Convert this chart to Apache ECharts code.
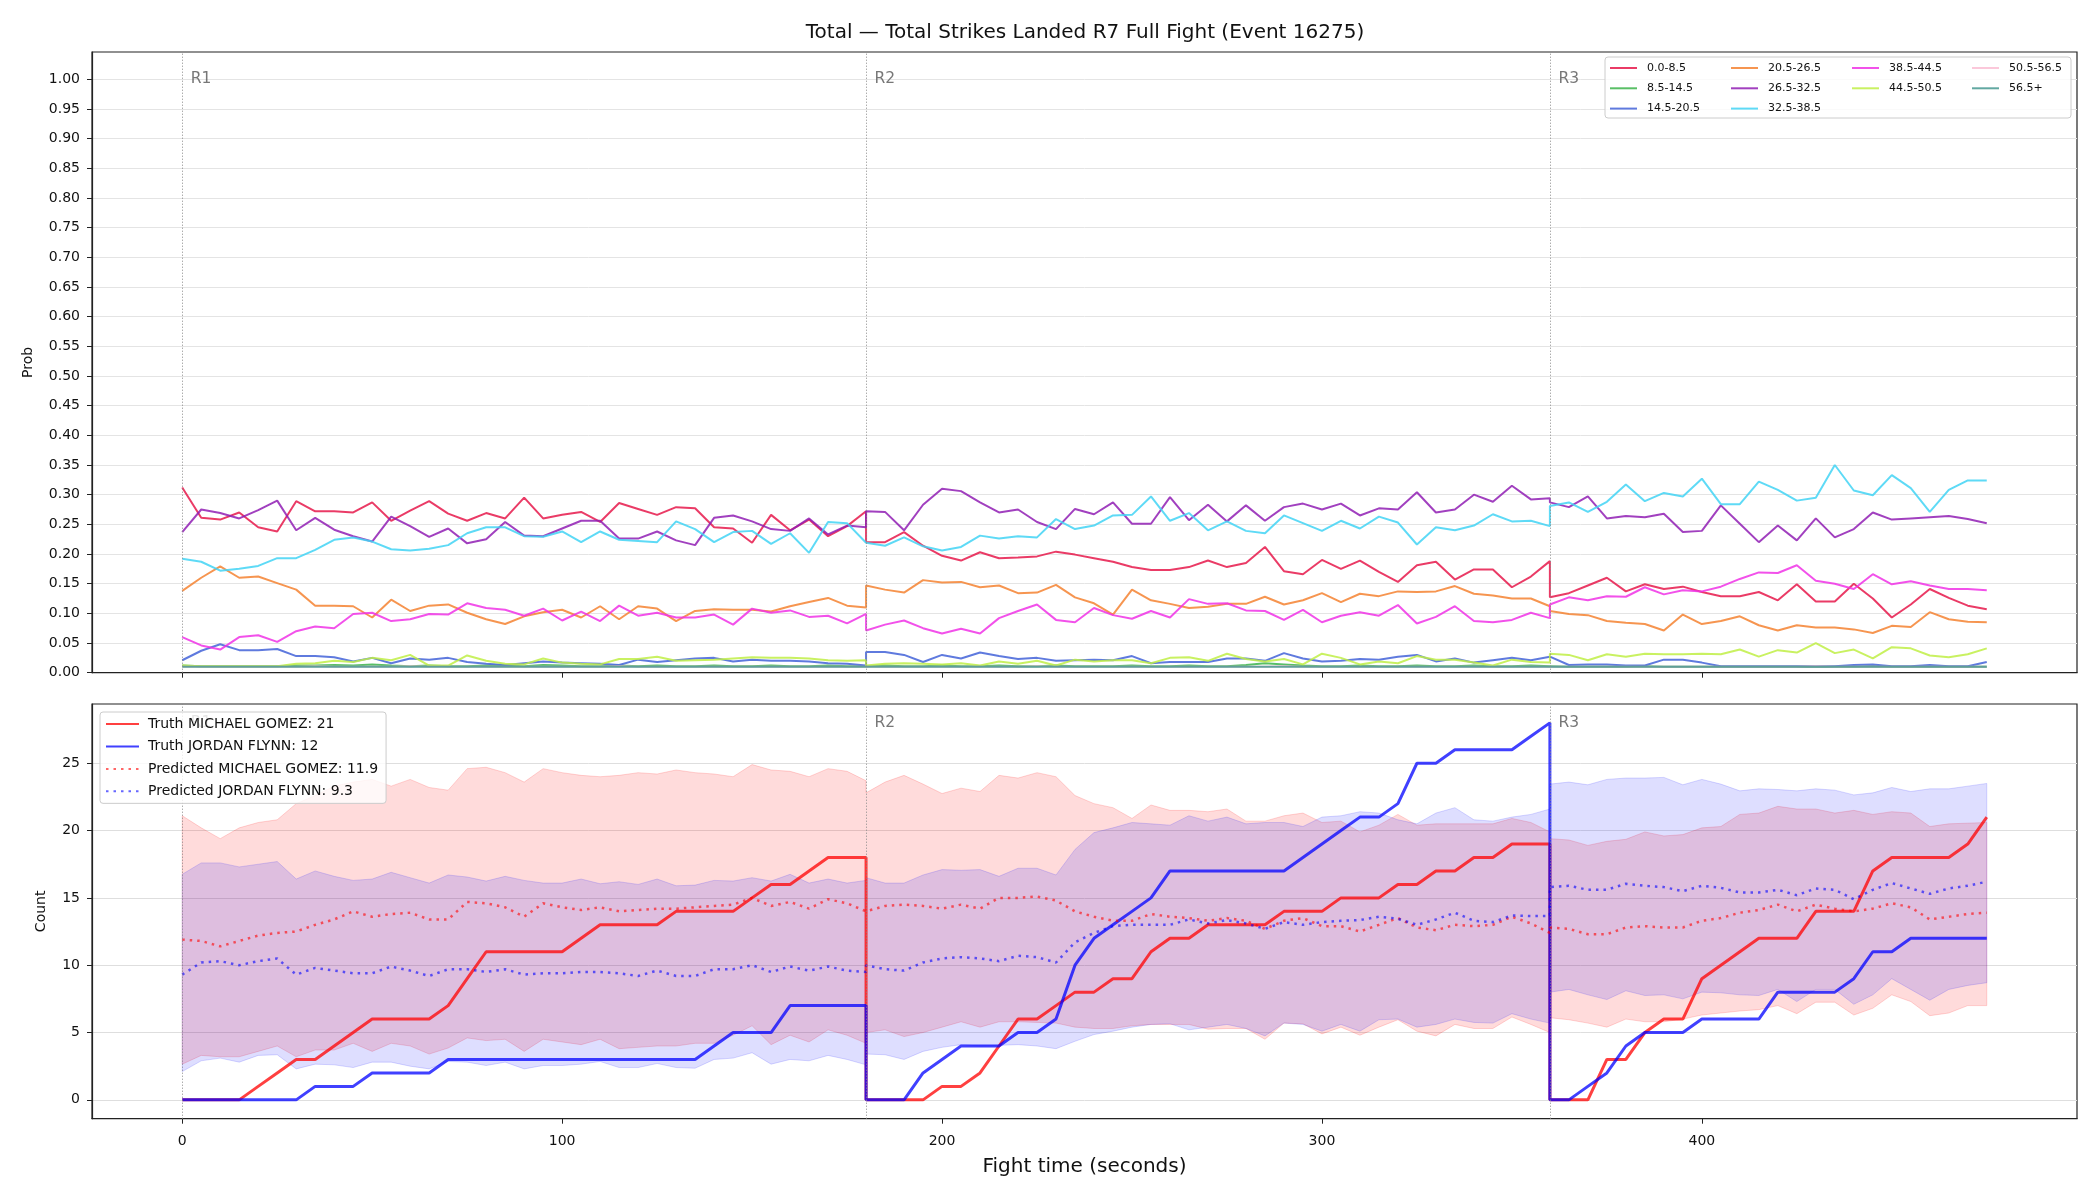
<!DOCTYPE html>
<html>
<head>
<meta charset="utf-8">
<title>Total Strikes Landed R7</title>
<script src="https://cdn.jsdelivr.net/npm/echarts@6/dist/echarts.min.js"></script>
<style>
html,body{margin:0;padding:0;background:#fff;}
#main{width:2100px;height:1200px;}
</style>
</head>
<body>
<div id="main"></div>
<script>
// fight time (s); round edges are repeated so each round starts fresh
var T = [0,5,10,15,20,25,30,35,40,45,50,55,60,65,70,75,80,85,90,95,100,105,110,115,120,125,130,135,140,145,150,155,160,165,170,175,180,
  180,185,190,195,200,205,210,215,220,225,230,235,240,245,250,255,260,265,270,275,280,285,290,295,300,305,310,315,320,325,330,335,340,345,350,355,360,
  360,365,370,375,380,385,390,395,400,405,410,415,420,425,430,435,440,445,450,455,460,465,470,475];

var BINS = ['0.0-8.5','8.5-14.5','14.5-20.5','20.5-26.5','26.5-32.5','32.5-38.5','38.5-44.5','44.5-50.5','50.5-56.5','56.5+'];
var BIN_COLORS = ['#e6194b','#3cb44b','#4363d8','#f58231','#911eb4','#42d4f4','#f032e6','#bfef45','#fabed4','#469990'];

var P_0_85 = [.312,.261,.258,.270,.245,.238,.289,.272,.272,.270,.287,.256,.273,.289,.268,.256,.269,.260,.295,.260,.266,.271,.254,.286,.276,.266,.279,.277,.245,.243,.219,.266,.240,.258,.230,.247,.272,
  .220,.220,.237,.214,.197,.189,.203,.193,.194,.196,.204,.199,.193,.187,.178,.173,.173,.178,.189,.178,.185,.212,.171,.166,.190,.175,.189,.170,.153,.181,.187,.157,.174,.174,.144,.162,.188,
  .127,.134,.147,.160,.137,.149,.141,.145,.136,.129,.129,.136,.122,.149,.120,.120,.150,.125,.093,.115,.141,.126,.113,.107];
var P_85_145 = [.012,.011,.011,.011,.011,.011,.012,.012,.013,.012,.014,.012,.011,.012,.011,.011,.012,.012,.011,.013,.012,.011,.011,.012,.011,.012,.011,.011,.012,.011,.011,.012,.011,.011,.012,.011,.011,
  .011,.012,.011,.011,.012,.011,.011,.012,.011,.011,.012,.011,.011,.011,.012,.011,.011,.012,.011,.011,.013,.016,.014,.012,.011,.011,.012,.011,.011,.012,.011,.011,.012,.011,.011,.012,.011,
  .011,.010,.010,.010,.010,.011,.010,.010,.010,.010,.010,.010,.010,.010,.010,.010,.010,.011,.010,.010,.010,.010,.010,.010];
var P_145_205 = [.021,.037,.048,.038,.038,.040,.028,.028,.026,.019,.025,.016,.024,.022,.025,.018,.015,.013,.016,.019,.017,.016,.015,.013,.022,.018,.021,.024,.025,.019,.022,.020,.020,.019,.016,.015,.012,
  .035,.035,.030,.018,.030,.024,.034,.028,.023,.025,.020,.021,.022,.021,.028,.016,.018,.018,.018,.024,.024,.020,.033,.024,.019,.020,.023,.022,.027,.030,.019,.024,.017,.021,.025,.021,.027,
  .024,.013,.014,.014,.012,.012,.022,.022,.017,.011,.011,.011,.011,.011,.011,.011,.013,.014,.011,.011,.013,.011,.011,.018];
var P_205_265 = [.138,.160,.179,.160,.162,.151,.140,.113,.113,.112,.093,.123,.104,.113,.115,.101,.090,.082,.095,.102,.106,.093,.112,.090,.112,.108,.087,.104,.107,.106,.106,.103,.112,.119,.126,.113,.110,
  .147,.140,.135,.156,.152,.153,.144,.147,.134,.135,.148,.127,.117,.098,.140,.122,.116,.109,.111,.116,.116,.128,.115,.122,.134,.119,.133,.129,.137,.136,.137,.146,.133,.130,.125,.125,.112,
  .104,.099,.097,.087,.084,.082,.071,.098,.082,.087,.095,.080,.071,.080,.076,.076,.073,.067,.079,.077,.102,.090,.086,.085];
var P_265_325 = [.237,.275,.269,.260,.274,.290,.240,.261,.241,.230,.221,.263,.247,.229,.243,.218,.225,.254,.231,.230,.243,.256,.256,.226,.226,.238,.223,.215,.261,.265,.255,.242,.239,.260,.233,.248,.245,
  .272,.271,.240,.283,.310,.306,.287,.270,.275,.254,.242,.276,.267,.287,.251,.251,.296,.257,.283,.255,.282,.256,.279,.285,.275,.285,.265,.277,.275,.304,.270,.275,.300,.288,.315,.292,.294,
  .287,.279,.297,.260,.264,.262,.268,.237,.239,.282,.251,.220,.248,.223,.260,.228,.242,.270,.258,.260,.262,.264,.259,.252];
var P_325_385 = [.192,.187,.172,.175,.180,.193,.193,.207,.224,.228,.221,.208,.206,.209,.215,.235,.245,.245,.230,.229,.238,.220,.238,.224,.222,.220,.255,.242,.220,.237,.239,.217,.235,.202,.254,.252,.219,
  .219,.214,.228,.213,.206,.212,.231,.226,.230,.228,.259,.242,.248,.265,.266,.297,.256,.269,.240,.255,.239,.235,.265,.252,.239,.256,.243,.263,.253,.216,.245,.240,.248,.267,.255,.256,.247,
  .281,.287,.271,.288,.317,.289,.303,.297,.327,.284,.284,.322,.308,.290,.295,.350,.307,.299,.333,.311,.271,.308,.324,.324];
var P_385_445 = [.060,.046,.039,.060,.063,.052,.070,.078,.075,.099,.101,.087,.090,.099,.098,.117,.109,.106,.096,.108,.088,.103,.087,.113,.096,.101,.093,.093,.098,.081,.108,.101,.105,.094,.096,.083,.099,
  .071,.081,.088,.075,.066,.074,.066,.092,.104,.115,.089,.085,.109,.097,.091,.104,.093,.124,.116,.117,.105,.104,.089,.106,.085,.096,.102,.096,.114,.083,.094,.112,.087,.085,.089,.101,.092,
  .115,.127,.122,.129,.128,.144,.132,.139,.137,.145,.158,.169,.168,.181,.155,.150,.141,.166,.149,.154,.147,.141,.141,.139];
var P_445_505 = [.012,.011,.011,.011,.011,.011,.015,.016,.020,.018,.025,.021,.030,.012,.012,.029,.020,.015,.014,.024,.017,.015,.014,.023,.023,.027,.020,.021,.022,.024,.026,.025,.025,.024,.021,.020,.021,
  .012,.015,.016,.015,.014,.016,.012,.019,.015,.020,.012,.022,.019,.021,.021,.016,.025,.026,.020,.032,.023,.019,.023,.014,.032,.025,.014,.019,.016,.028,.022,.022,.017,.012,.022,.018,.017,
  .032,.030,.021,.031,.027,.032,.031,.031,.032,.031,.039,.027,.038,.034,.050,.033,.039,.024,.043,.041,.029,.026,.031,.041];
var P_505_565 = [.010,.010,.010,.010,.010,.010,.010,.011,.010,.010,.010,.010,.011,.010,.010,.010,.010,.010,.010,.010,.010,.010,.010,.011,.010,.010,.010,.010,.010,.010,.010,.010,.010,.010,.010,.010,.010,
  .010,.010,.010,.010,.010,.010,.010,.010,.010,.011,.010,.010,.010,.010,.010,.010,.010,.010,.010,.010,.010,.010,.011,.010,.010,.010,.010,.010,.010,.010,.010,.010,.010,.010,.010,.010,.010,
  .010,.010,.010,.010,.010,.010,.010,.010,.010,.010,.010,.010,.010,.010,.011,.010,.010,.010,.010,.010,.010,.010,.010,.010];
var P_565 = [.010,.010,.010,.010,.010,.010,.010,.010,.010,.010,.010,.010,.010,.010,.010,.010,.010,.010,.010,.010,.010,.010,.010,.010,.010,.010,.010,.010,.010,.010,.010,.010,.010,.010,.010,.010,.010,
  .010,.010,.010,.010,.010,.010,.010,.010,.010,.010,.010,.010,.010,.010,.010,.010,.010,.010,.010,.010,.010,.010,.010,.010,.010,.010,.010,.010,.010,.010,.010,.010,.010,.010,.010,.010,.010,
  .010,.010,.010,.010,.010,.010,.010,.010,.010,.010,.010,.010,.010,.010,.010,.010,.010,.010,.010,.010,.010,.010,.010,.010];
var PROB = [P_0_85, P_85_145, P_145_205, P_205_265, P_265_325, P_325_385, P_385_445, P_445_505, P_505_565, P_565];

// counts, bottom panel
var TRUTH_M = [0,0,0,0,1,2,3,3,4,5,6,6,6,6,7,9,11,11,11,11,11,12,13,13,13,13,14,14,14,14,15,16,16,17,18,18,18,
  0,0,0,0,1,1,2,4,6,6,7,8,8,9,9,11,12,12,13,13,13,13,14,14,14,15,15,15,16,16,17,17,18,18,19,19,19,
  0,0,0,3,3,5,6,6,9,10,11,12,12,12,14,14,14,17,18,18,18,18,19,21];
var TRUTH_J = [0,0,0,0,0,0,0,1,1,1,2,2,2,2,3,3,3,3,3,3,3,3,3,3,3,3,3,3,4,5,5,5,7,7,7,7,7,
  0,0,0,2,3,4,4,4,5,5,6,10,12,13,14,15,17,17,17,17,17,17,17,18,19,20,21,21,22,25,25,26,26,26,26,27,28,
  0,0,1,2,4,5,5,5,6,6,6,6,8,8,8,8,9,11,11,12,12,12,12,12];
var PRED_M = [11.9,11.8,11.4,11.8,12.2,12.4,12.5,13.0,13.4,14.0,13.6,13.8,13.9,13.4,13.4,14.7,14.6,14.3,13.6,14.6,14.3,14.1,14.3,14.0,14.1,14.2,14.2,14.3,14.4,14.5,15.0,14.4,14.7,14.2,14.9,14.6,14.0,
  13.9,14.4,14.5,14.4,14.2,14.5,14.2,15.0,15.0,15.1,14.8,14.0,13.6,13.3,13.3,13.8,13.6,13.5,13.3,13.5,13.3,12.7,13.3,13.5,12.9,12.9,12.5,13.0,13.5,12.8,12.6,13.0,12.9,13.0,13.6,13.1,12.4,
  12.8,12.7,12.3,12.3,12.8,12.9,12.8,12.8,13.3,13.5,13.9,14.1,14.5,14.0,14.5,14.2,14.0,14.2,14.6,14.3,13.4,13.6,13.8,13.9];
var PRED_J = [9.3,10.2,10.3,10.0,10.3,10.5,9.3,9.8,9.6,9.4,9.4,9.9,9.6,9.2,9.7,9.7,9.5,9.7,9.3,9.4,9.4,9.5,9.5,9.4,9.2,9.6,9.2,9.2,9.7,9.7,10.0,9.5,9.9,9.6,9.9,9.6,9.5,
  10.0,9.7,9.6,10.2,10.5,10.6,10.5,10.3,10.7,10.6,10.2,11.7,12.4,12.9,13.0,13.0,13.0,13.4,13.1,13.35,13.1,12.7,13.2,13.0,13.2,13.3,13.35,13.6,13.45,13.0,13.4,13.9,13.3,13.2,13.7,13.65,13.65,
  15.8,15.9,15.6,15.6,16.05,15.9,15.8,15.5,15.9,15.75,15.4,15.4,15.6,15.2,15.7,15.6,14.9,15.6,16.1,15.7,15.3,15.7,15.9,16.2];
var BAND_M_HI = [21.1,20.2,19.4,20.2,20.6,20.8,22.0,22.6,23.3,23.6,23.8,23.3,23.8,23.2,23.0,24.6,24.7,24.3,23.6,24.6,24.3,24.1,24.0,24.1,24.3,24.2,24.5,24.3,24.2,24.0,24.9,24.5,24.4,24.0,24.6,24.4,23.7,
  22.8,23.6,24.1,23.45,22.75,23.15,22.9,24.1,23.9,24.3,24.0,22.6,22.0,21.7,20.9,21.9,21.5,21.5,21.4,21.6,20.7,20.7,21.1,21.3,20.6,20.7,19.9,20.4,21.2,20.4,20.5,20.5,20.5,20.5,20.9,20.6,19.9,
  19.4,19.3,18.9,19.2,19.35,19.9,19.6,19.7,20.2,20.3,21.2,21.3,21.8,21.6,21.6,21.3,21.5,21.2,21.4,21.3,20.3,20.5,20.55,20.6];
var BAND_M_LO = [2.65,3.3,3.2,3.2,3.6,4.0,3.2,3.7,3.7,4.2,3.6,4.2,4.0,3.4,3.85,4.6,4.4,4.5,3.6,4.5,4.3,4.1,4.5,3.8,3.9,4.0,4.0,4.2,4.2,4.8,5.5,4.1,4.8,4.3,5.2,4.8,4.2,
  5.0,5.2,4.7,5.0,5.4,5.8,5.4,5.8,5.8,5.75,5.7,5.4,5.3,5.3,5.5,5.6,5.6,5.6,5.25,5.3,5.3,4.5,5.7,5.65,4.9,5.4,4.8,5.4,5.95,5.1,4.75,5.6,5.3,5.3,6.15,5.6,5.0,
  6.1,5.95,5.7,5.4,6.0,5.8,5.8,6.0,6.3,6.45,6.6,6.7,7.0,6.4,7.25,7.25,6.3,6.8,7.8,7.3,6.25,6.45,7.0,7.0];
var BAND_J_HI = [16.75,17.6,17.6,17.3,17.5,17.7,16.4,17.0,16.6,16.3,16.4,16.9,16.5,16.1,16.7,16.55,16.25,16.6,16.3,16.1,16.1,16.4,16.05,16.2,16.0,16.4,15.9,15.95,16.3,16.25,16.5,16.25,16.75,16.1,16.4,16.1,16.3,
  16.5,16.1,16.1,16.7,17.1,17.05,17.1,16.6,17.2,17.2,16.7,18.6,19.85,20.2,20.6,20.5,20.4,21.1,20.7,21.0,20.5,20.6,20.6,20.3,21.0,21.1,21.4,21.3,20.8,20.5,21.3,21.7,20.8,20.7,21.0,21.2,21.6,
  23.45,23.6,23.4,23.8,23.9,23.9,23.95,23.4,23.8,23.45,22.95,23.1,23.05,22.95,23.1,23.0,22.65,22.8,23.2,22.9,23.1,23.1,23.3,23.5];
var BAND_J_LO = [2.1,2.9,3.1,2.8,3.3,3.35,2.3,2.65,2.6,2.4,2.8,2.8,2.5,2.3,2.85,2.8,2.55,2.8,2.3,2.55,2.55,2.65,2.85,2.4,2.4,2.7,2.4,2.35,3.0,3.1,3.5,2.65,3.0,2.9,3.3,3.0,2.6,
  3.4,3.35,3.0,3.6,3.9,4.1,4.0,4.05,4.1,4.0,3.8,4.35,4.85,5.1,5.4,5.6,5.65,5.2,5.4,5.6,5.3,4.75,5.7,5.6,5.1,5.6,5.1,5.95,6.0,5.4,5.6,6.0,5.75,5.7,6.4,6.0,5.7,
  8.0,8.2,7.8,7.45,8.1,7.75,7.8,7.5,8.0,7.95,7.8,7.75,8.2,7.3,8.2,8.2,7.1,7.8,9.0,8.2,7.4,8.2,8.5,8.7];

var COUNT_NAMES = ['Truth MICHAEL GOMEZ: 21','Truth JORDAN FLYNN: 12','Predicted MICHAEL GOMEZ: 11.9','Predicted JORDAN FLYNN: 9.3'];
var ROUND_START = [0, 180, 360];
var ROUND_NAMES = ['R1', 'R2', 'R3'];
var X_TICKS = [0, 100, 200, 300, 400];
var PROB_TICKS = [0,0.05,0.1,0.15,0.2,0.25,0.3,0.35,0.4,0.45,0.5,0.55,0.6,0.65,0.7,0.75,0.8,0.85,0.9,0.95,1.0];
var COUNT_TICKS = [0, 5, 10, 15, 20, 25];
var TITLE = 'Total \u2014 Total Strikes Landed R7 Full Fight (Event 16275)';

var FONT = 'DejaVu Sans';
var chart = echarts.init(document.getElementById('main'), null, {renderer: 'canvas'});

function pairs(ys) {
  return T.map(function (t, i) { return [t, ys[i]]; });
}

// shaded interval between lo and hi, one polygon through the axis scales
function band(lo, hi, fill, edge) {
  return {
    type: 'custom', xAxisIndex: 1, yAxisIndex: 1, silent: true, z: 2,
    data: T.map(function (t, i) { return [t, lo[i], hi[i]]; }),
    encode: {x: 0, y: [1, 2]},
    renderItem: function (params, api) {
      if (params.dataIndex !== 0) return null;
      var up = [], dn = [];
      for (var i = 0; i < params.dataInsideLength; i++) {
        up.push(api.coord([api.value(0, i), api.value(2, i)]));
        dn.push(api.coord([api.value(0, i), api.value(1, i)]));
      }
      return {type: 'polygon', shape: {points: up.concat(dn.reverse())},
        style: {fill: fill, stroke: edge, lineWidth: 1}};
    }
  };
}

function roundMarks(gi, yPos) {
  return {
    type: 'scatter', xAxisIndex: gi, yAxisIndex: gi, silent: true, z: 3,
    data: ROUND_START.map(function (t) { return [t, yPos]; }),
    symbolSize: 1, itemStyle: {color: 'rgba(0,0,0,0)'},
    label: {show: true, position: 'right', distance: 8, color: '#555', fontSize: 15.5, fontFamily: FONT,
      formatter: function (p) { return ROUND_NAMES[p.dataIndex]; }},
    markLine: {silent: true, symbol: ['none', 'none'], label: {show: false},
      lineStyle: {color: '#888', type: [1, 2], width: 1},
      data: ROUND_START.map(function (t) { return {xAxis: t}; })}
  };
}

var series = [];
BINS.forEach(function (name, k) {
  series.push({
    name: name, type: 'line', xAxisIndex: 0, yAxisIndex: 0, data: pairs(PROB[k]),
    symbol: 'none', z: 3,
    lineStyle: {color: BIN_COLORS[k], width: 2, opacity: 0.85},
    itemStyle: {color: BIN_COLORS[k]}
  });
});
series.push(roundMarks(0, 1.0));

series.push(band(BAND_M_LO, BAND_M_HI, 'rgba(255,0,0,0.14)', 'rgba(255,0,0,0.16)'));
series.push(band(BAND_J_LO, BAND_J_HI, 'rgba(0,0,255,0.13)', 'rgba(0,0,255,0.15)'));
var countLines = [
  {ys: TRUTH_M, color: 'rgba(255,0,0,0.75)', width: 3, type: 'solid'},
  {ys: TRUTH_J, color: 'rgba(0,0,255,0.75)', width: 3, type: 'solid'},
  {ys: PRED_M, color: 'rgba(255,0,0,0.6)', width: 2.5, type: [2.5, 5]},
  {ys: PRED_J, color: 'rgba(0,0,255,0.6)', width: 2.5, type: [2.5, 5]}
];
countLines.forEach(function (c, k) {
  series.push({
    name: COUNT_NAMES[k], type: 'line', xAxisIndex: 1, yAxisIndex: 1, data: pairs(c.ys),
    symbol: 'none', z: 4,
    lineStyle: {color: c.color, width: c.width, type: c.type},
    itemStyle: {color: c.color}
  });
});
series.push(roundMarks(1, 28));

var axisLineStyle = {show: true, onZero: false, lineStyle: {color: '#222', width: 1.2}};
function xAxis(gi, showLabels) {
  return {
    gridIndex: gi, type: 'value', min: -23.75, max: 498.75,
    axisLine: axisLineStyle,
    axisTick: {show: true, length: 5, lineStyle: {color: '#222'}, customValues: X_TICKS},
    axisLabel: {show: showLabels, customValues: X_TICKS, fontSize: 14, color: '#111', margin: 16, fontFamily: FONT},
    splitLine: {show: false},
    name: showLabels ? 'Fight time (seconds)' : '', nameLocation: 'middle', nameGap: 38,
    nameTextStyle: {fontSize: 20, color: '#111', fontFamily: FONT}
  };
}

var legendCols = [[0, 1, 2], [3, 4, 5], [6, 7], [8, 9]];
var legendX = [1609, 1730, 1851, 1971];
var legends = legendCols.map(function (col, c) {
  return {
    orient: 'vertical', left: legendX[c], top: 62.5, padding: 0, z: 6,
    itemWidth: 27, itemHeight: 10, itemGap: 9.3, selectedMode: false,
    itemStyle: {opacity: 0},
    data: col.map(function (k) { return BINS[k]; }),
    textStyle: {fontSize: 11, lineHeight: 10, color: '#111', fontFamily: FONT, padding: [0, 0, 0, 5]}
  };
});
legends.push({
  orient: 'vertical', left: 100, top: 712, z: 6, selectedMode: false,
  padding: [5, 8, 5, 5], backgroundColor: 'rgba(255,255,255,0.8)',
  borderColor: '#cccccc', borderWidth: 1, borderRadius: 3,
  itemWidth: 33, itemHeight: 14, itemGap: 8.45,
  itemStyle: {opacity: 0},
  data: COUNT_NAMES,
  textStyle: {fontSize: 14, lineHeight: 14, color: '#111', fontFamily: FONT, padding: [0, 0, 0, 4]}
});

chart.setOption({
  animation: false,
  backgroundColor: '#fff',
  textStyle: {fontFamily: FONT},
  graphic: [
    {type: 'text', x: 1085, y: 33, z: 10,
      style: {text: TITLE, fontSize: 20, fontFamily: FONT, fill: '#111', align: 'center', verticalAlign: 'middle'}},
    {type: 'rect', z: 5, shape: {x: 1605, y: 57, width: 466, height: 61, r: 3},
      style: {fill: 'rgba(255,255,255,0.8)', stroke: '#cccccc', lineWidth: 1}}
  ],
  grid: [
    {left: 92, right: 23, top: 52, height: 620.7, show: true, borderColor: '#222', borderWidth: 1.2},
    {left: 92, right: 23, top: 704, height: 414.7, show: true, borderColor: '#222', borderWidth: 1.2}
  ],
  xAxis: [xAxis(0, false), xAxis(1, true)],
  yAxis: [
    {gridIndex: 0, type: 'value', min: 0, max: 1.046, interval: 0.05,
      axisLine: axisLineStyle,
      axisTick: {show: true, length: 5, lineStyle: {color: '#222'}, customValues: PROB_TICKS},
      axisLabel: {customValues: PROB_TICKS, fontSize: 14, color: '#111', margin: 12, fontFamily: FONT,
        formatter: function (v) { return v.toFixed(2); }},
      splitLine: {show: true, lineStyle: {color: '#e4e4e4', width: 1}},
      name: 'Prob', nameLocation: 'middle', nameRotate: 90, nameGap: 57,
      nameTextStyle: {fontSize: 14, color: '#111', fontFamily: FONT}},
    {gridIndex: 1, type: 'value', min: -1.4, max: 29.4, splitNumber: 6,
      axisLine: axisLineStyle,
      axisTick: {show: true, length: 5, lineStyle: {color: '#222'}, customValues: COUNT_TICKS},
      axisLabel: {customValues: COUNT_TICKS, fontSize: 14, color: '#111', margin: 12, fontFamily: FONT},
      splitLine: {show: true, lineStyle: {color: '#dedede', width: 1}},
      name: 'Count', nameLocation: 'middle', nameRotate: 90, nameGap: 44,
      nameTextStyle: {fontSize: 14, color: '#111', fontFamily: FONT}}
  ],
  legend: legends,
  series: series
});
</script>
</body>
</html>
